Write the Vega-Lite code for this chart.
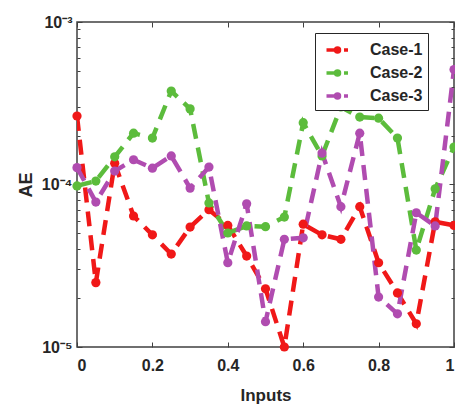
{
  "$schema": "https://vega.github.io/schema/vega-lite/v6.json",
  "autosize": {"type": "none"},
  "padding": {"left": 77, "top": 22, "right": 1, "bottom": 58},
  "width": 377,
  "height": 325,
  "background": "white",
  "config": {
    "font": "Liberation Sans",
    "view": {"stroke": "#404040", "strokeWidth": 1.5},
    "axis": {"grid": false, "domain": false, "labelFont": "Liberation Sans", "labelFontWeight": "bold", "labelColor": "#262626", "titleFont": "Liberation Sans", "titleFontWeight": "bold", "titleColor": "#262626", "tickColor": "#404040"}
  },
  "data": {"values": [
    {"x": 0.00, "y": 2.64e-4, "c": "Case-1"},
    {"x": 0.05, "y": 2.49e-5, "c": "Case-1"},
    {"x": 0.10, "y": 1.35e-4, "c": "Case-1"},
    {"x": 0.15, "y": 6.4e-5, "c": "Case-1"},
    {"x": 0.20, "y": 4.9e-5, "c": "Case-1"},
    {"x": 0.25, "y": 3.73e-5, "c": "Case-1"},
    {"x": 0.30, "y": 5.47e-5, "c": "Case-1"},
    {"x": 0.35, "y": 7.0e-5, "c": "Case-1"},
    {"x": 0.40, "y": 5.6e-5, "c": "Case-1"},
    {"x": 0.45, "y": 3.63e-5, "c": "Case-1"},
    {"x": 0.50, "y": 2.28e-5, "c": "Case-1"},
    {"x": 0.55, "y": 1.0e-5, "c": "Case-1"},
    {"x": 0.60, "y": 5.7e-5, "c": "Case-1"},
    {"x": 0.65, "y": 4.9e-5, "c": "Case-1"},
    {"x": 0.70, "y": 4.6e-5, "c": "Case-1"},
    {"x": 0.75, "y": 7.3e-5, "c": "Case-1"},
    {"x": 0.80, "y": 3.3e-5, "c": "Case-1"},
    {"x": 0.85, "y": 2.15e-5, "c": "Case-1"},
    {"x": 0.90, "y": 1.39e-5, "c": "Case-1"},
    {"x": 0.95, "y": 5.9e-5, "c": "Case-1"},
    {"x": 1.00, "y": 5.6e-5, "c": "Case-1"},
    {"x": 0.00, "y": 9.8e-5, "c": "Case-2"},
    {"x": 0.05, "y": 1.05e-4, "c": "Case-2"},
    {"x": 0.10, "y": 1.48e-4, "c": "Case-2"},
    {"x": 0.15, "y": 2.07e-4, "c": "Case-2"},
    {"x": 0.20, "y": 1.93e-4, "c": "Case-2"},
    {"x": 0.25, "y": 3.76e-4, "c": "Case-2"},
    {"x": 0.30, "y": 2.92e-4, "c": "Case-2"},
    {"x": 0.35, "y": 7.7e-5, "c": "Case-2"},
    {"x": 0.40, "y": 5.03e-5, "c": "Case-2"},
    {"x": 0.45, "y": 5.56e-5, "c": "Case-2"},
    {"x": 0.50, "y": 5.5e-5, "c": "Case-2"},
    {"x": 0.55, "y": 6.3e-5, "c": "Case-2"},
    {"x": 0.60, "y": 2.4e-4, "c": "Case-2"},
    {"x": 0.65, "y": 1.5e-4, "c": "Case-2"},
    {"x": 0.70, "y": 3.0e-4, "c": "Case-2"},
    {"x": 0.75, "y": 2.6e-4, "c": "Case-2"},
    {"x": 0.80, "y": 2.56e-4, "c": "Case-2"},
    {"x": 0.85, "y": 1.93e-4, "c": "Case-2"},
    {"x": 0.90, "y": 3.95e-5, "c": "Case-2"},
    {"x": 0.95, "y": 9.4e-5, "c": "Case-2"},
    {"x": 1.00, "y": 1.7e-4, "c": "Case-2"},
    {"x": 0.00, "y": 1.27e-4, "c": "Case-3"},
    {"x": 0.05, "y": 7.8e-5, "c": "Case-3"},
    {"x": 0.10, "y": 1.21e-4, "c": "Case-3"},
    {"x": 0.15, "y": 1.42e-4, "c": "Case-3"},
    {"x": 0.20, "y": 1.26e-4, "c": "Case-3"},
    {"x": 0.25, "y": 1.5e-4, "c": "Case-3"},
    {"x": 0.30, "y": 9.5e-5, "c": "Case-3"},
    {"x": 0.35, "y": 1.28e-4, "c": "Case-3"},
    {"x": 0.40, "y": 3.3e-5, "c": "Case-3"},
    {"x": 0.45, "y": 7.6e-5, "c": "Case-3"},
    {"x": 0.50, "y": 1.43e-5, "c": "Case-3"},
    {"x": 0.55, "y": 4.6e-5, "c": "Case-3"},
    {"x": 0.60, "y": 4.7e-5, "c": "Case-3"},
    {"x": 0.65, "y": 1.56e-4, "c": "Case-3"},
    {"x": 0.70, "y": 7.3e-5, "c": "Case-3"},
    {"x": 0.75, "y": 2.07e-4, "c": "Case-3"},
    {"x": 0.80, "y": 2.03e-5, "c": "Case-3"},
    {"x": 0.85, "y": 1.6e-5, "c": "Case-3"},
    {"x": 0.90, "y": 6.7e-5, "c": "Case-3"},
    {"x": 0.95, "y": 5.56e-5, "c": "Case-3"},
    {"x": 1.00, "y": 5.1e-4, "c": "Case-3"}
  ]},
  "layer": [
    {
      "mark": {"type": "line", "strokeWidth": 4.5, "strokeDash": [15, 9], "clip": true},
      "encoding": {
        "x": {"field": "x", "type": "quantitative", "scale": {"domain": [0, 1], "nice": false},
          "axis": {"orient": "bottom", "values": [0, 0.2, 0.4, 0.6, 0.8, 1], "labelExpr": "format(datum.value, '~g')", "tickSize": -5, "labelPadding": 15, "labelFontSize": 16, "title": "Inputs", "titleFontSize": 17, "titlePadding": 14}},
        "y": {"field": "y", "type": "quantitative", "scale": {"type": "log", "domain": [1e-5, 1e-3], "nice": false},
          "axis": {"orient": "left", "values": [1e-5, 2e-5, 3e-5, 4e-5, 5e-5, 6e-5, 7e-5, 8e-5, 9e-5, 1e-4, 2e-4, 3e-4, 4e-4, 5e-4, 6e-4, 7e-4, 8e-4, 9e-4, 1e-3],
            "labelExpr": "datum.value == 0.001 ? '10⁻³' : (datum.value == 0.0001 ? '10⁻⁴' : (datum.value == 0.00001 ? '10⁻⁵' : ''))",
            "tickSize": {"condition": {"test": "datum.value == 0.001 || datum.value == 0.0001 || datum.value == 0.00001", "value": -5}, "value": -3},
            "labelPadding": 10, "labelFontSize": 16, "title": "AE", "titleFontSize": 18, "titlePadding": 6}},
        "color": {"field": "c", "type": "nominal", "scale": {"domain": ["Case-1", "Case-2", "Case-3"], "range": ["#f01818", "#5cbc3c", "#b04cb0"]},
          "legend": {"orient": "none", "legendX": 238, "legendY": 11, "title": null, "direction": "vertical",
            "strokeColor": "#262626", "fillColor": "white", "padding": 5, "cornerRadius": 0,
            "symbolType": "M-0.55,0 L0.55,0 M1.2,0 L1.6,0 M0.75,0 A0.2,0.2 0 1,1 0.35,0 A0.2,0.2 0 1,1 0.75,0",
            "symbolDash": [100, 0],
            "symbolSize": 400, "symbolStrokeWidth": 3.5, "labelFontSize": 16, "labelFontWeight": "bold", "labelColor": "#262626", "rowPadding": 2, "labelOffset": 26}}
      }
    },
    {
      "mark": {"type": "point", "filled": true, "size": 85, "opacity": 1},
      "encoding": {
        "x": {"field": "x", "type": "quantitative", "axis": {"orient": "top", "values": [0, 0.2, 0.4, 0.6, 0.8, 1], "labels": false, "tickSize": -5, "title": null}},
        "y": {"field": "y", "type": "quantitative", "axis": {"orient": "right", "values": [1e-5, 2e-5, 3e-5, 4e-5, 5e-5, 6e-5, 7e-5, 8e-5, 9e-5, 1e-4, 2e-4, 3e-4, 4e-4, 5e-4, 6e-4, 7e-4, 8e-4, 9e-4, 1e-3], "labels": false, "tickSize": {"condition": {"test": "datum.value == 0.001 || datum.value == 0.0001 || datum.value == 0.00001", "value": -5}, "value": -3}, "title": null}},
        "color": {"field": "c", "type": "nominal"}
      }
    }
  ]
}
